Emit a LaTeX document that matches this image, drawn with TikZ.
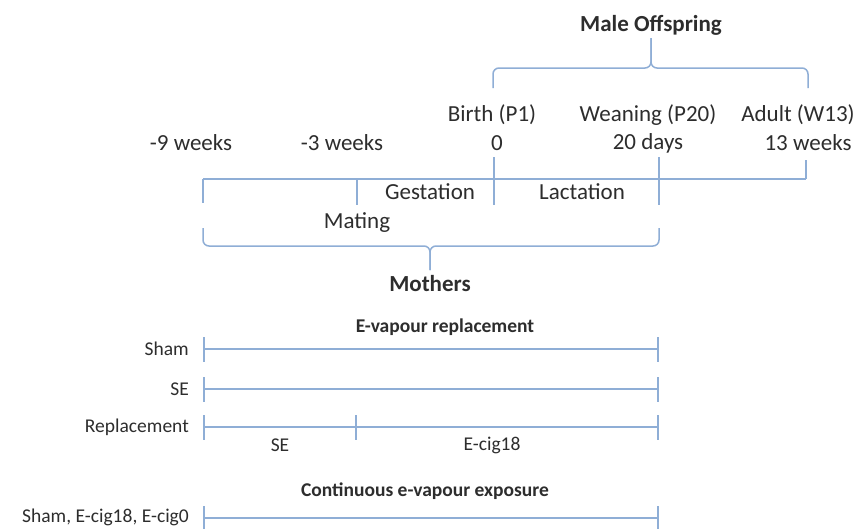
\documentclass[tikz,border=0pt]{standalone}
\usepackage{fontspec}
\setmainfont{Carlito}
\definecolor{tl}{RGB}{143,174,214}
\definecolor{ink}{RGB}{45,45,45}
\begin{document}
\begin{tikzpicture}[x=1pt,y=-1pt,
  tline/.style={draw=tl,line width=1.5pt},
  brace/.style={draw=tl,line width=1.5pt,rounded corners=6pt},
  big/.style={font=\fontsize{23}{25}\selectfont,text=ink,inner sep=0pt},
  bigb/.style={big,font=\fontsize{23}{25}\selectfont\bfseries},
  small/.style={font=\fontsize{19.5}{21}\selectfont,text=ink,inner sep=0pt},
  smallb/.style={small,font=\fontsize{19.5}{21}\selectfont\bfseries},
  rowlbl/.style={small,anchor=east}]
\useasboundingbox[fill=white] (0,0) rectangle (861,528);

% offspring brace and time points
\node[bigb] (male) at (651,25) {Male Offspring};
\coordinate (utip) at (651,38);
\coordinate (umid) at (651,68);
\coordinate (ul) at (493,88);
\coordinate (ur) at (808,88);
\draw[brace] (ul) -- (ul |- umid) -- (umid) -- (utip);
\draw[brace] (ur) -- (ur |- umid) -- (umid) -- (utip);

\node[big] (birth) at (492,115) {Birth (P1)};
\node[big] (wean) at (648,115) {Weaning (P20)};
\node[big] (adult) at (798,115) {Adult (W13)};

\node[big] (m9) at (191,143) {-9 weeks};
\node[big] (m3) at (342,143) {-3 weeks};
\node[big] (d0) at (497,143) {0};
\node[big] (d20) at (648,143) {20 days};
\node[big] (w13) at (808,143) {13 weeks};

% main timeline
\coordinate (ta) at (203,179);
\coordinate (tb) at (357,179);
\coordinate (tc) at (494,179);
\coordinate (td) at (659,179);
\coordinate (te) at (806,179);
\draw[tline] (ta) -- (te);
\draw[tline] (ta) -- ++(0,24);
\draw[tline] (tb) -- ++(0,26);
\draw[tline] (tc) ++(0,-22) -- ++(0,48);
\draw[tline] (td) ++(0,-22) -- ++(0,48);
\draw[tline] (te) -- ++(0,-19);

\node[big] (gest) at (430,192) {Gestation};
\node[big] (lact) at (582,192) {Lactation};
\node[big] (mating) at (357,223) {Mating};

% mothers brace
\coordinate (ll) at (203,228);
\coordinate (lr) at (659,228);
\coordinate (lmid) at (430,246);
\coordinate (ltip) at (430,270);
\draw[brace] (ll) -- (ll |- lmid) -- (lmid) -- (ltip);
\draw[brace] (lr) -- (lr |- lmid) -- (lmid) -- (ltip);
\node[bigb] (mothers) at (430,284) {Mothers};

% replacement groups
\node[smallb] (reptitle) at (445,327) {E-vapour replacement};
\foreach \nm/\lab/\yy in {sham/Sham/349, se/SE/389, rep/Replacement/427}{
  \node[rowlbl] (\nm lbl) at (189,\yy) {\lab};
  \coordinate (\nm a) at (204,\yy);
  \coordinate (\nm b) at (658,\yy);
  \draw[tline] (\nm a) -- (\nm b);
  \draw[tline] (\nm a) ++(0,-12) -- ++(0,25);
  \draw[tline] (\nm b) ++(0,-12) -- ++(0,25);
}
\coordinate (repm) at (356,427);
\draw[tline] (repm) ++(0,-12) -- ++(0,25);
\node[small] (seph) at (280,445) {SE};
\node[small] (ecph) at (492,445) {E-cig18};

% continuous exposure
\node[smallb] (conttitle) at (425,491) {Continuous e-vapour exposure};
\node[rowlbl] (contlbl) at (189,517) {Sham, E-cig18, E-cig0};
\coordinate (conta) at (204,518);
\coordinate (contb) at (658,518);
\draw[tline] (conta) -- (contb);
\draw[tline] (conta) ++(0,-12) -- ++(0,25);
\draw[tline] (contb) ++(0,-12) -- ++(0,25);
\end{tikzpicture}
\end{document}
